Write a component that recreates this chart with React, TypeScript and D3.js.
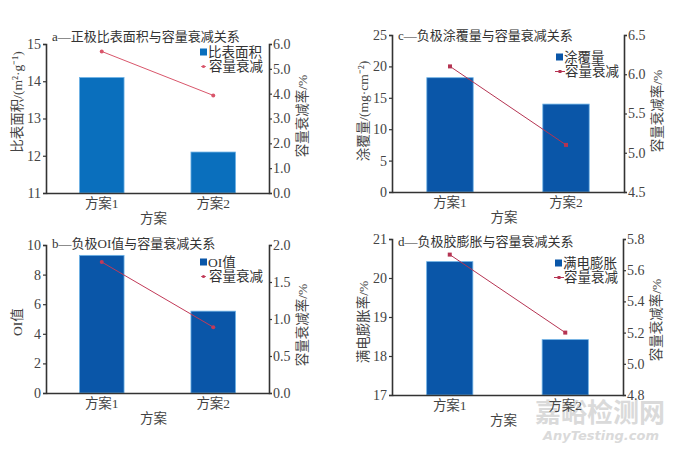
import React, { useEffect, useRef } from 'react';
import * as d3 from 'd3';

// categories and values
const schemes = ['方案1', '方案2'];

const surfaceArea = [14.1, 12.1];
const decayA = [5.7, 3.93];
const surfaceTicks = [11, 12, 13, 14, 15];
const decayTicksA = [0, 1, 2, 3, 4, 5, 6];

const oiValue = [9.3, 5.53];
const decayB = [1.77, 0.89];
const oiTicks = [0, 2, 4, 6, 8, 10];
const decayTicksB = [0, 0.5, 1.0, 1.5, 2.0];

const coating = [18.2, 14.0];
const decayC = [6.1, 5.1];
const coatingTicks = [0, 5, 10, 15, 20, 25];
const decayTicksC = [4.5, 5.0, 5.5, 6.0, 6.5];

const swelling = [20.42, 18.42];
const decayD = [5.7, 5.2];
const swellingTicks = [17, 18, 19, 20, 21];
const decayTicksD = [4.8, 5.0, 5.2, 5.4, 5.6, 5.8];

const FONT = '"Times New Roman", "Liberation Serif", "Noto Sans CJK SC", serif';

interface PanelSpec {
    title: string;
    barName: string;
    lineName: string;
    yLabel: string;
    y2Label: string;
    bars: number[];
    line: number[];
    yTicks: number[];
    y2Ticks: number[];
    y2Format: string;
    left: number;
    right: number;
    top: number;
    bottom: number;
    barColor: string;
    lineColor: string;
    marker: 'circle' | 'square';
    legendX: number;
    legendY: number;
    legendLine: boolean;
    yLabelMid: number;
    y2LabelMid: number;
    titleY: number;
}

const panels: PanelSpec[] = [
    {
        title: 'a—正极比表面积与容量衰减关系', barName: '比表面积', lineName: '容量衰减',
        yLabel: '比表面积/(m²·g⁻¹)', y2Label: '容量衰减率/%',
        bars: surfaceArea, line: decayA, yTicks: surfaceTicks, y2Ticks: decayTicksA, y2Format: '.1f',
        left: 46, right: 269, top: 44, bottom: 193,
        barColor: '#0a6fbd', lineColor: '#d9566b', marker: 'circle',
        legendX: 200, legendY: 52, legendLine: false,
        yLabelMid: 102, y2LabelMid: 116, titleY: 41,
    },
    {
        title: 'c—负极涂覆量与容量衰减关系', barName: '涂覆量', lineName: '容量衰减',
        yLabel: '涂覆量/(mg·cm⁻²)', y2Label: '容量衰减率/%',
        bars: coating, line: decayC, yTicks: coatingTicks, y2Ticks: decayTicksC, y2Format: '.1f',
        left: 392, right: 624, top: 35, bottom: 192,
        barColor: '#0a56a8', lineColor: '#b53452', marker: 'square',
        legendX: 556, legendY: 57, legendLine: true,
        yLabelMid: 111, y2LabelMid: 111, titleY: 40,
    },
    {
        title: 'b—负极OI值与容量衰减关系', barName: 'OI值', lineName: '容量衰减',
        yLabel: 'OI值', y2Label: '容量衰减率/%',
        bars: oiValue, line: decayB, yTicks: oiTicks, y2Ticks: decayTicksB, y2Format: '.1f',
        left: 46, right: 269, top: 245, bottom: 393,
        barColor: '#0a56a8', lineColor: '#c23a58', marker: 'circle',
        legendX: 200, legendY: 262, legendLine: false,
        yLabelMid: 322, y2LabelMid: 325, titleY: 248,
    },
    {
        title: 'd—负极胶膨胀与容量衰减关系', barName: '满电膨胀', lineName: '容量衰减',
        yLabel: '满电膨胀率/%', y2Label: '容量衰减率/%',
        bars: swelling, line: decayD, yTicks: swellingTicks, y2Ticks: decayTicksD, y2Format: '.1f',
        left: 392, right: 623, top: 239, bottom: 395,
        barColor: '#0a56a8', lineColor: '#b53452', marker: 'square',
        legendX: 555, legendY: 263, legendLine: true,
        yLabelMid: 322, y2LabelMid: 320, titleY: 246,
    },
];

const App: React.FC = () => {
    const svgRef = useRef<SVGSVGElement>(null);

    useEffect(() => {
        if (!svgRef.current) return;
        const svg = d3.select(svgRef.current);
        svg.selectAll('*').remove();

        svg.append('rect').attr('width', 681).attr('height', 450).attr('fill', '#fff');

        // Watermark (drawn first, sits behind the chart text)
        svg.append('text')
            .attr('x', 600)
            .attr('y', 422)
            .attr('text-anchor', 'middle')
            .attr('font-family', '"Noto Sans CJK SC", sans-serif')
            .attr('font-weight', 700)
            .attr('font-size', 26)
            .attr('fill', '#dadada')
            .text('嘉峪检测网');

        svg.append('text')
            .attr('x', 601)
            .attr('y', 440)
            .attr('text-anchor', 'middle')
            .attr('font-family', '"DejaVu Sans", sans-serif')
            .attr('font-style', 'italic')
            .attr('font-weight', 700)
            .attr('font-size', 13)
            .attr('fill', '#dadada')
            .text('AnyTesting.com');

        panels.forEach(p => {
            const g = svg.append('g').attr('font-family', FONT).attr('fill', '#333');

            const x = d3.scaleBand<string>()
                .domain(schemes)
                .range([p.left, p.right])
                .paddingInner(0.6)
                .paddingOuter(0.3);

            const y = d3.scaleLinear()
                .domain([p.yTicks[0], p.yTicks[p.yTicks.length - 1]])
                .range([p.bottom, p.top]);

            const y2 = d3.scaleLinear()
                .domain([p.y2Ticks[0], p.y2Ticks[p.y2Ticks.length - 1]])
                .range([p.bottom, p.top]);

            // Bars
            g.selectAll('rect.bar')
                .data(p.bars)
                .enter()
                .append('rect')
                .attr('x', (_, i) => x(schemes[i]) as number)
                .attr('y', d => y(d))
                .attr('width', x.bandwidth())
                .attr('height', d => p.bottom - y(d))
                .attr('fill', p.barColor)
                .attr('stroke', '#6fb3e6')
                .attr('stroke-width', 0.8);

            // Left axis
            const leftAxis = d3.axisLeft(y).tickValues(p.yTicks).tickSize(3).tickFormat(d3.format('d'));
            const la = g.append('g').attr('transform', `translate(${p.left},0)`).call(leftAxis);
            la.select('.domain').attr('stroke', '#333').attr('stroke-width', 1.6);
            la.selectAll('.tick line').attr('stroke', '#333').attr('stroke-width', 1.2);
            la.selectAll('.tick text').attr('font-size', 14).attr('fill', '#444').attr('font-family', FONT).attr('x', -5);

            // Right axis
            const rightAxis = d3.axisRight(y2).tickValues(p.y2Ticks).tickSize(3).tickFormat(d3.format(p.y2Format));
            const ra = g.append('g').attr('transform', `translate(${p.right},0)`).call(rightAxis);
            ra.select('.domain').attr('stroke', '#333').attr('stroke-width', 1.6);
            ra.selectAll('.tick line').attr('stroke', '#333').attr('stroke-width', 1.2);
            ra.selectAll('.tick text').attr('font-size', 14).attr('fill', '#444').attr('font-family', FONT).attr('x', 4);

            // Bottom axis
            const bottomAxis = d3.axisBottom(x).tickSize(0).tickPadding(5);
            const ba = g.append('g').attr('transform', `translate(0,${p.bottom})`).call(bottomAxis);
            ba.select('.domain').attr('stroke', '#333').attr('stroke-width', 1.6);
            ba.selectAll('.tick text').attr('font-size', 13.5).attr('fill', '#444').attr('font-family', FONT);

            // x axis title
            g.append('text')
                .attr('x', (p.left + p.right) / 2 - 4)
                .attr('y', p.bottom + 30)
                .attr('text-anchor', 'middle')
                .attr('font-size', 13.5)
                .attr('fill', '#444')
                .text('方案');

            // Y labels
            g.append('text')
                .attr('transform', `translate(${p.left - 24},${p.yLabelMid}) rotate(-90)`)
                .attr('text-anchor', 'middle')
                .attr('font-size', 13.5)
                .attr('fill', '#444')
                .text(p.yLabel);

            g.append('text')
                .attr('transform', `translate(${p.right + 38},${p.y2LabelMid}) rotate(-90)`)
                .attr('text-anchor', 'middle')
                .attr('font-size', 13.5)
                .attr('fill', '#444')
                .text(p.y2Label);

            // Title
            g.append('text')
                .attr('x', p.left + 6)
                .attr('y', p.titleY)
                .attr('font-size', 13)
                .attr('fill', '#333')
                .text(p.title);

            // Line
            const cx = (i: number) => (x(schemes[i]) as number) + x.bandwidth() / 2;
            const lineGen = d3.line<number>()
                .x((_, i) => cx(i))
                .y(d => y2(d));

            g.append('path')
                .datum(p.line)
                .attr('fill', 'none')
                .attr('stroke', p.lineColor)
                .attr('stroke-width', 1)
                .attr('d', lineGen);

            if (p.marker === 'circle') {
                g.selectAll('circle.pt')
                    .data(p.line)
                    .enter()
                    .append('circle')
                    .attr('cx', (_, i) => cx(i))
                    .attr('cy', d => y2(d))
                    .attr('r', 2)
                    .attr('fill', p.lineColor);
            } else {
                g.selectAll('rect.pt')
                    .data(p.line)
                    .enter()
                    .append('rect')
                    .attr('x', (_, i) => cx(i) - 2)
                    .attr('y', d => y2(d) - 2)
                    .attr('width', 4)
                    .attr('height', 4)
                    .attr('fill', p.lineColor);
            }

            // Legend
            const lg = g.append('g').attr('transform', `translate(${p.legendX},${p.legendY})`);
            lg.append('rect')
                .attr('x', 0).attr('y', -3.5)
                .attr('width', 7).attr('height', 7)
                .attr('fill', p.barColor);
            lg.append('text')
                .attr('x', 8).attr('y', 4.5)
                .attr('font-size', 13.5)
                .attr('fill', '#333')
                .text(p.barName);

            const ly = 14.5;
            if (p.legendLine) {
                lg.append('line')
                    .attr('x1', -1).attr('x2', 9)
                    .attr('y1', ly).attr('y2', ly)
                    .attr('stroke', p.lineColor).attr('stroke-width', 1);
                lg.append('rect')
                    .attr('x', 2.5).attr('y', ly - 1.5)
                    .attr('width', 3).attr('height', 3)
                    .attr('fill', p.lineColor);
            } else {
                lg.append('line')
                    .attr('x1', 1).attr('x2', 6)
                    .attr('y1', ly).attr('y2', ly)
                    .attr('stroke', p.lineColor).attr('stroke-width', 0.8);
                lg.append('circle')
                    .attr('cx', 3.5).attr('cy', ly)
                    .attr('r', 1.6)
                    .attr('fill', p.lineColor);
            }
            lg.append('text')
                .attr('x', 9).attr('y', ly + 4.5)
                .attr('font-size', 13.5)
                .attr('fill', '#333')
                .text(p.lineName);
        });
    }, []);

    return (
        <svg
            ref={svgRef}
            width={681}
            height={450}
            style={{ position: 'absolute', left: 0, top: 0, display: 'block' }}
        />
    );
};

export default App;
